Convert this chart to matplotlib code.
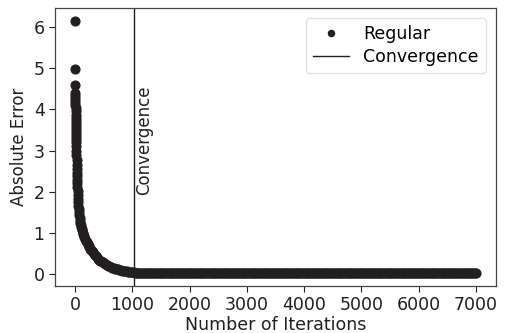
import numpy as np
import matplotlib
matplotlib.use("Agg")
import matplotlib.pyplot as plt

plt.rcParams["font.family"] = ["DejaVu Sans"]

# Iterations and absolute-error values
iterations = [0, 1, 2, 3, 4, 5, 6, 7, 8, 9, 10, 11, 12, 13, 14, 15, 16, 17, 18, 19, 20,
              22, 24, 26, 28, 30, 32, 34, 36, 38, 40, 43, 46, 50, 54, 58, 63, 68, 74, 80,
              86, 93, 100, 108, 116, 125, 135, 145, 155, 165, 175, 190, 205, 220, 235, 250,
              265, 280, 295, 310, 325, 340, 360, 380, 400, 420, 440, 460, 480, 500, 525,
              550, 575, 600, 625, 650, 675, 700, 725, 750, 775, 800, 825, 850, 875, 900,
              925, 950, 975, 1000, 1025, 1050, 1075, 1100, 1125, 1150, 1175, 1200]
errors = [6.15, 4.97, 4.60, 4.40, 4.32, 4.25, 4.17, 4.10, 4.02, 3.95, 3.87, 3.80, 3.72,
          3.65, 3.57, 3.50, 3.42, 3.35, 3.27, 3.20, 3.12, 3.00, 2.88, 2.77, 2.66, 2.56,
          2.46, 2.37, 2.28, 2.20, 2.12, 2.02, 1.93, 1.83, 1.74, 1.66, 1.58, 1.50, 1.43,
          1.36, 1.30, 1.25, 1.20, 1.15, 1.10, 1.06, 1.01, 0.97, 0.93, 0.89, 0.86, 0.81,
          0.77, 0.73, 0.69, 0.65, 0.62, 0.59, 0.56, 0.53, 0.50, 0.47, 0.44, 0.41, 0.38,
          0.355, 0.33, 0.31, 0.29, 0.27, 0.25, 0.23, 0.21, 0.19, 0.175, 0.16, 0.145,
          0.135, 0.125, 0.115, 0.105, 0.095, 0.088, 0.08, 0.074, 0.068, 0.062, 0.057,
          0.052, 0.048, 0.044, 0.04, 0.037, 0.034, 0.031, 0.029, 0.027, 0.025]
# flat tail after convergence (value read as ~0.02 up to iteration 7000)
tail_iterations = list(range(1225, 7001, 25))
tail_value = 0.02
tail_errors = [tail_value] * len(tail_iterations)

convergence_iter = 1030
convergence_label = "Convergence"

all_x = iterations + tail_iterations
all_y = errors + tail_errors

fig = plt.figure(figsize=(5.08, 3.33), dpi=100)
ax = fig.add_axes([55/508, 1 - 286/333, (496-55)/508, (286-8)/333])

col = "#231f20"
fs = 12.5
ax.plot(all_x, all_y, linestyle="none", marker="o", markersize=6.3, color=col,
        label="Regular")
ax.axvline(convergence_iter, color=col, linewidth=1.0, label="Convergence")
ax.text(convergence_iter + 20, 1.92, convergence_label, rotation=90, fontsize=12,
        color=col, ha="left", va="bottom")

ax.set_xlabel("Number of Iterations", fontsize=fs, labelpad=1, color=col)
ax.set_ylabel("Absolute Error", fontsize=12, labelpad=4, color=col)
ax.set_xticks([0, 1000, 2000, 3000, 4000, 5000, 6000, 7000])
ax.set_yticks([0, 1, 2, 3, 4, 5, 6])
ax.tick_params(labelsize=fs, colors=col, length=4, width=0.8)
for s in ax.spines.values():
    s.set_color("#444444")
    s.set_linewidth(0.9)

ax.legend(loc="upper right", fontsize=fs, frameon=True, edgecolor="#d9d9d9",
          markerscale=0.7, handlelength=2.1, labelspacing=0.25,
          borderaxespad=0.6)

fig.savefig("out.png", dpi=100)
